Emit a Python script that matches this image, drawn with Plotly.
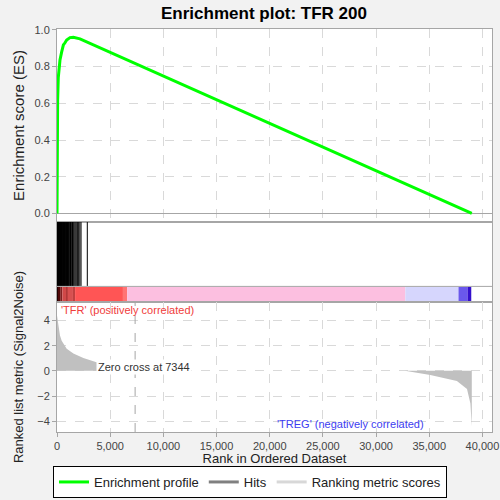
import plotly.graph_objects as go

# running enrichment score (rank, ES)
es_rank = [0, 20, 60, 120, 200, 280, 440, 600, 750, 910, 1220, 1400, 1540, 2160, 39000]
es_value = [0.0, 0.35, 0.62, 0.74, 0.79, 0.836, 0.88, 0.918, 0.93, 0.945, 0.958, 0.96, 0.96, 0.951, 0.0]

# positions of the gene set members in the ranked list
hit_ranks = [0, 12, 25, 40, 55, 70, 88, 105, 120, 140, 160, 180, 205, 230, 255, 280,
             310, 340, 370, 400, 430, 465, 500, 540, 580, 620, 660, 700, 745, 790,
             840, 890, 940, 990, 1040, 1090, 1150, 1210, 1270, 1330, 1400, 1460,
             1530, 1610, 1700, 1790, 1880, 1950, 2040, 2150, 2260, 2850]

# ranked list metric (signal2noise)
metric_pos_rank = [0, 60, 120, 200, 280, 440, 600, 910, 1540, 2480, 3640, 5000, 6200, 7344]
metric_pos_value = [4.4, 4.0, 3.4, 3.0, 2.8, 2.4, 2.15, 1.76, 1.37, 1.02, 0.71, 0.45, 0.25, 0.0]
metric_neg_rank = [32700, 35100, 37600, 38550, 38870, 38950, 39000]
metric_neg_value = [0.0, -0.33, -0.8, -1.45, -2.6, -3.5, -4.4]

# colour band under the hits
band_start = [0, 150, 300, 500, 900, 1000, 1500, 1700, 6200, 6600, 32750, 37750, 38600]
band_end = [150, 300, 500, 900, 1000, 1500, 1700, 6200, 6600, 32750, 37750, 38600, 38950]
band_color = ['#200000', '#500808', '#802020', '#d04848', '#b03838', '#d85050', '#c04040',
              '#ff5555', '#ff7474', '#fcbfe0', '#d6d6fd', '#6a58ec', '#3410cc']

zero_cross = 7344
x_max = 40900

fig = go.Figure()

fig.add_trace(go.Scatter(x=es_rank, y=es_value, mode='lines', name='Enrichment profile',
                         line=dict(color='#00ff00', width=3), xaxis='x', yaxis='y'))

hx, hy = [], []
for r in hit_ranks:
    hx += [r, r, None]
    hy += [0.2, 1.0, None]
fig.add_trace(go.Scatter(x=hx, y=hy, mode='lines', line=dict(color='black', width=1),
                         showlegend=False, xaxis='x2', yaxis='y2'))

fig.add_trace(go.Bar(y=[0.095] * len(band_start), x=[e - s for s, e in zip(band_start, band_end)],
                     base=band_start, orientation='h', width=0.19,
                     marker=dict(color=band_color, line=dict(width=0)),
                     showlegend=False, xaxis='x2', yaxis='y2'))

fig.add_trace(go.Scatter(x=metric_pos_rank, y=metric_pos_value, mode='lines', fill='tozeroy',
                         fillcolor='#c0c0c0', line=dict(width=0, color='#c0c0c0'),
                         showlegend=False, xaxis='x3', yaxis='y3'))
fig.add_trace(go.Scatter(x=metric_neg_rank, y=metric_neg_value, mode='lines', fill='tozeroy',
                         fillcolor='#c0c0c0', line=dict(width=0, color='#c0c0c0'),
                         showlegend=False, xaxis='x3', yaxis='y3'))

# legend entries
fig.add_trace(go.Scatter(x=[None], y=[None], mode='lines', name='Hits',
                         line=dict(color='#808080', width=3), xaxis='x3', yaxis='y3'))
fig.add_trace(go.Scatter(x=[None], y=[None], mode='lines', name='Ranking metric scores',
                         line=dict(color='#d8d8d8', width=3), xaxis='x3', yaxis='y3'))

grid = dict(showgrid=True, gridcolor='#d9d9d9', griddash='dash', gridwidth=1, automargin=False)
frame = dict(showline=True, mirror=True, linecolor='#a6a6a6', linewidth=1)
tickfont = dict(size=11, color='#444444')

fig.update_layout(
    width=500, height=500,
    paper_bgcolor='#f2f2f2', plot_bgcolor='white',
    margin=dict(l=57, r=8, t=29, b=68, autoexpand=False),
    font=dict(family='Liberation Sans', color='#222222'),
    title=dict(text='<b>Enrichment plot: TFR 200</b>', x=0.528, xanchor='center',
               y=0.974, yanchor='middle', font=dict(size=17, color='black')),
    barmode='overlay',
    xaxis=dict(domain=[0, 1], range=[0, x_max], anchor='y', dtick=5000, showticklabels=False,
               zeroline=False, **grid, **frame),
    yaxis=dict(domain=[0.521, 1], range=[-0.047, 1.005], dtick=0.2, tickformat='.1f',
               ticks='outside', ticklen=4, tickcolor='#a6a6a6', tickfont=tickfont,
               title=dict(text='Enrichment score (ES)', font=dict(size=15), standoff=6),
               zeroline=True, zerolinecolor='#a6a6a6', zerolinewidth=1, **grid, **frame),
    xaxis2=dict(domain=[0, 1], range=[0, x_max], anchor='y2', showticklabels=False,
                showgrid=False, zeroline=False, automargin=False, **frame),
    yaxis2=dict(domain=[0.3226, 0.521], range=[0, 1], showticklabels=False, showgrid=False,
                zeroline=False, automargin=False, **frame),
    xaxis3=dict(domain=[0, 1], range=[0, x_max], anchor='y3', dtick=5000, tickformat=',d',
                ticks='outside', ticklen=4, tickcolor='#a6a6a6', tickfont=tickfont,
                title=dict(text='Rank in Ordered Dataset', font=dict(size=13), standoff=6),
                zeroline=False, **grid, **frame),
    yaxis3=dict(domain=[0, 0.3226], range=[-4.86, 5.47], dtick=2, ticks='outside', ticklen=4,
                tickcolor='#a6a6a6', tickfont=tickfont,
                title=dict(text='Ranked list metric (Signal2Noise)', font=dict(size=13), standoff=10),
                zeroline=False, **grid, **frame),
    legend=dict(orientation='h', xref='container', yref='container', x=0.5, xanchor='center',
                y=0.004, yanchor='bottom', bgcolor='white', bordercolor='black', borderwidth=1,
                font=dict(size=13), itemwidth=30, traceorder='normal'),
)

fig.add_shape(type='line', xref='x2 domain', yref='y2', x0=0, x1=1, y0=0.195, y1=0.195,
              line=dict(color='#a6a6a6', width=1))
fig.add_shape(type='line', xref='x3', yref='y3', x0=zero_cross, x1=zero_cross, y0=-4.86, y1=5.47,
              line=dict(color='#a6a6a6', width=1, dash='dash'))

fig.add_annotation(x=200, y=4.86, xref='x3', yref='y3', text="'TFR' (positively correlated)",
                   showarrow=False, xanchor='left', yanchor='middle',
                   font=dict(size=11, color='#f03c3c'))
fig.add_annotation(x=20500, y=-4.2, xref='x3', yref='y3', text="'TREG' (negatively correlated)",
                   showarrow=False, xanchor='left', yanchor='middle',
                   font=dict(size=11, color='#3c3cf0'))
fig.add_annotation(x=3670, y=0.3, xref='x3', yref='y3', text='Zero cross at ' + str(zero_cross),
                   showarrow=False, xanchor='left', yanchor='middle', bgcolor='white', borderpad=1,
                   font=dict(size=11, color='#333333'))

fig.write_html('out.html', config={'displayModeBar': False},
               post_script="document.body.style.margin='0';document.body.style.overflow='hidden';")
